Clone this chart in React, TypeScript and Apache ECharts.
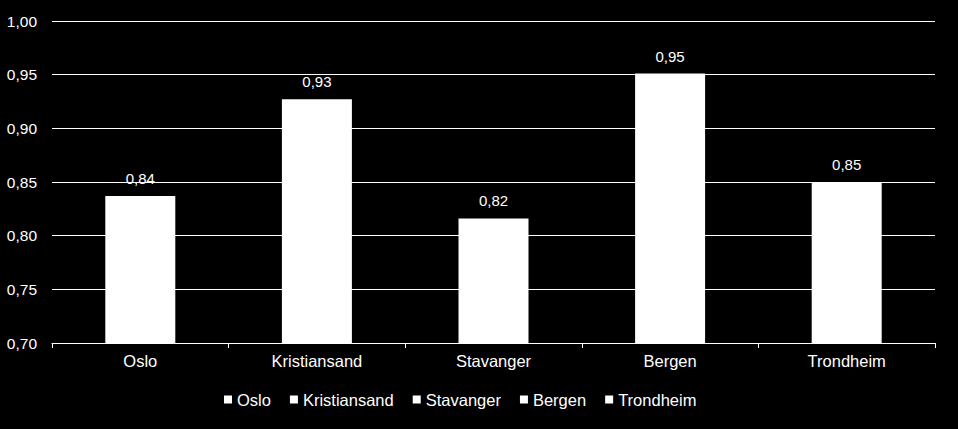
import React, { useEffect, useRef } from "react";
import * as echarts from "echarts";

const categories = ["Oslo", "Kristiansand", "Stavanger", "Bergen", "Trondheim"];
const values = [0.837, 0.927, 0.816, 0.951, 0.85];
const yTicks = { min: 0.7, max: 1.0, interval: 0.05 };

const fmt = (v: number) => v.toFixed(2).replace(".", ",");

export default function App() {
  const ref = useRef<HTMLDivElement>(null);
  useEffect(() => {
    if (!ref.current) return;
    const chart = echarts.init(ref.current, undefined, { renderer: "svg" });
    const font = "Liberation Sans, Arial, sans-serif";
    const series = categories.map((name, i) => ({
      name,
      type: "bar",
      stack: "all",
      barWidth: 70,
      itemStyle: { color: "#ffffff" },
      label: {
        show: true,
        position: "top",
        distance: 10,
        color: "#ffffff",
        fontFamily: font,
        fontSize: 15,
        formatter: (p: any) => fmt(p.value),
      },
      data: categories.map((_, j) => (j === i ? values[i] : "-")),
    }));
    chart.setOption({
      animation: false,
      backgroundColor: "#000000",
      textStyle: { fontFamily: font },
      grid: { left: 52, right: 23, top: 21, bottom: 86, containLabel: false },
      legend: {
        data: categories,
        bottom: 16,
        left: 219,
        icon: "rect",
        itemWidth: 8,
        itemHeight: 8,
        itemGap: 19,
        textStyle: { color: "#ffffff", fontSize: 16.5, fontFamily: font },
      },
      xAxis: {
        type: "category",
        data: categories,
        axisLine: { lineStyle: { color: "#ffffff", width: 1 } },
        axisTick: { show: true, alignWithLabel: false, length: 5, lineStyle: { color: "#ffffff" } },
        axisLabel: { color: "#ffffff", fontSize: 16.5, fontFamily: font, margin: 9 },
      },
      yAxis: {
        type: "value",
        min: yTicks.min,
        max: yTicks.max,
        interval: yTicks.interval,
        axisLine: { show: false },
        axisTick: { show: false },
        splitLine: { lineStyle: { color: "#ffffff", width: 1 } },
        axisLabel: {
          color: "#ffffff",
          fontSize: 15.5,
          fontFamily: font,
          margin: 15,
          formatter: (v: number) => fmt(v),
        },
      },
      series,
    });
    return () => chart.dispose();
  }, []);
  return <div ref={ref} style={{ width: 958, height: 429, position: "absolute", left: 0, top: 0 }} />;
}
